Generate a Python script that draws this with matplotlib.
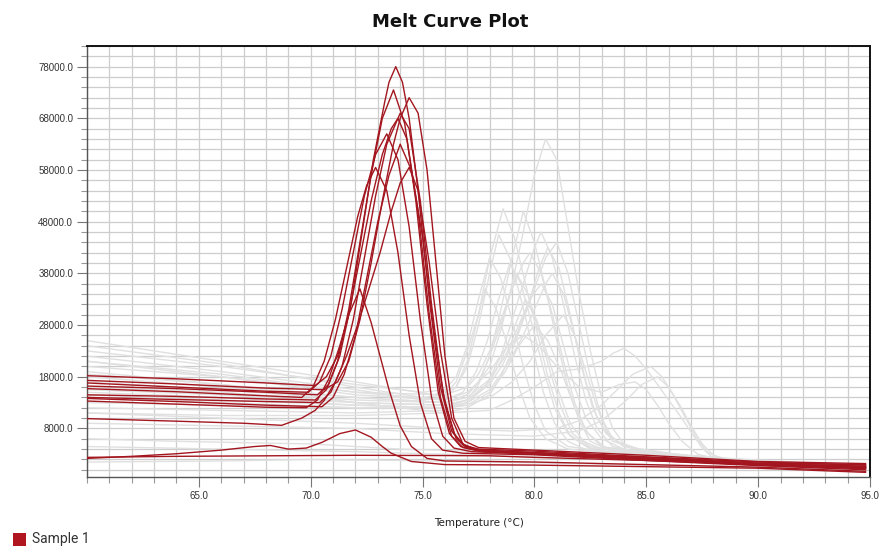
import matplotlib
matplotlib.use("Agg")
import matplotlib.pyplot as plt
from matplotlib.patches import Rectangle
from matplotlib.ticker import FixedLocator, MultipleLocator, FuncFormatter

# -dF/dT melt peaks, (temperature degC, value) per well

# Sample 1 wells
red_01 = [(60.0, 16200), (64, 15700), (68, 15000), (70.3, 14500), (70.8, 16500), (71.3, 22000),
          (71.8, 32000), (72.3, 46000), (72.8, 60000), (73.3, 71000), (73.5, 75000), (73.8, 78000),
          (74.1, 75000), (74.4, 68000), (74.8, 54000), (75.3, 33000), (75.8, 16000), (76.3, 7500),
          (76.8, 4800), (77.5, 4000), (80, 3600), (85, 2500), (90, 1500), (94.8, 900)]
red_02 = [(60.0, 14500), (64, 14200), (68, 13700), (70.2, 13500), (70.7, 15500), (71.2, 21000),
          (71.7, 31000), (72.2, 44000), (72.7, 57000), (73.2, 68000), (73.7, 73500), (74.2, 67000),
          (74.7, 52000), (75.2, 32000), (75.7, 15000), (76.2, 7000), (76.7, 4500), (77.5, 3800),
          (80, 3300), (85, 2300), (90, 1200), (94.8, 500)]
red_03 = [(60.0, 17300), (64, 16600), (68, 15800), (70.6, 15500), (71.2, 17000), (71.7, 21000),
          (72.2, 29000), (72.7, 40000), (73.2, 52000), (73.7, 63000), (74.0, 68000), (74.4, 72000),
          (74.8, 69000), (75.2, 58000), (75.6, 40000), (76.0, 22000), (76.4, 10000), (76.9, 5500),
          (77.5, 4300), (80, 3800), (85, 2800), (90, 1600), (94.8, 1200)]
red_04 = [(60.0, 14000), (64, 13600), (68, 13200), (70.4, 13000), (70.9, 15000), (71.4, 20000),
          (71.9, 29000), (72.4, 41000), (72.9, 53000), (73.4, 63000), (74.0, 69000), (74.4, 66000),
          (74.9, 52000), (75.4, 32000), (75.9, 15000), (76.4, 7000), (76.9, 4600), (77.5, 3800),
          (80, 3300), (85, 2200), (90, 1000), (94.8, 300)]
red_05 = [(60.0, 18200), (64, 17600), (68, 16800), (70.2, 16300), (70.7, 18000), (71.2, 22000),
          (71.7, 30000), (72.2, 41000), (72.7, 52000), (73.2, 61000), (73.6, 66000), (73.9, 68000),
          (74.3, 64000), (74.8, 50000), (75.3, 30000), (75.8, 14000), (76.3, 6500), (76.8, 4300),
          (77.5, 3600), (80, 3200), (85, 2000), (90, 900), (94.8, 200)]
red_06 = [(60.0, 16800), (64, 16000), (68, 15200), (69.9, 15000), (70.4, 17000), (70.9, 22000),
          (71.4, 31000), (71.9, 42000), (72.4, 53000), (72.9, 61000), (73.4, 65000), (73.9, 60000),
          (74.4, 47000), (74.9, 29000), (75.4, 14000), (75.9, 6500), (76.4, 4200), (77.2, 3500),
          (80, 3000), (85, 2000), (90, 1100), (94.8, 600)]
red_07 = [(60.0, 13800), (64, 13200), (68, 12500), (70.5, 12200), (71.0, 14000), (71.5, 18500),
          (72.0, 26000), (72.5, 37000), (73.0, 48000), (73.5, 57000), (74.0, 63000), (74.5, 58000),
          (75.0, 45000), (75.5, 27000), (76.0, 13000), (76.5, 6000), (77.0, 4200), (78, 3600),
          (80, 3200), (85, 2100), (90, 1200), (94.8, 700)]
red_08 = [(60.0, 15700), (64, 15100), (68, 14300), (69.6, 14000), (70.1, 16000), (70.6, 21000),
          (71.1, 29000), (71.6, 39000), (72.1, 49000), (72.5, 55000), (72.9, 58500), (73.4, 54000),
          (73.9, 42000), (74.4, 26000), (74.9, 13000), (75.4, 6000), (75.9, 3800), (76.8, 3200),
          (80, 2900), (85, 1800), (90, 800), (94.8, 0)]
red_09 = [(60.0, 9900), (64, 9400), (67, 9000), (68.7, 8600), (69.6, 10000), (70.2, 11500),
          (70.6, 13400), (71.1, 17000), (71.6, 22000), (72.1, 28000), (72.6, 35000), (73.1, 42000),
          (73.6, 50000), (74.0, 55500), (74.4, 58500), (74.8, 54000), (75.3, 40000), (75.8, 23000),
          (76.3, 10000), (76.8, 5000), (77.5, 3700), (80, 3300), (85, 2400), (90, 1300), (94.8, 1000)]
red_10 = [(60.0, 13300), (64, 12700), (68, 12100), (69.8, 12000), (70.3, 13500), (70.8, 17500),
          (71.3, 24000), (71.7, 30000), (72.2, 35000), (72.7, 28500), (73.1, 22000), (73.5, 15500),
          (74.0, 8500), (74.5, 4500), (75.2, 2200), (76, 1700), (80, 1500), (85, 1000), (90, 500),
          (94.8, -300)]
red_11 = [(60.0, 2200), (62, 2600), (64, 3100), (66, 3800), (67.5, 4500), (68.2, 4700), (69, 4000),
          (69.8, 4200), (70.5, 5300), (71.3, 7000), (72.0, 7700), (72.7, 6300), (73.2, 4500),
          (73.6, 3200), (74.5, 1600), (76, 1000), (80, 900), (85, 600), (90, 300), (94.8, -500)]
red_12 = [(60.0, 2400), (64, 2600), (68, 2700), (72, 2800), (76, 2750), (78, 2700), (80, 2400),
          (85, 1800), (90, 1000), (94.8, 400)]

# other wells
grey_01 = [(60.0, 18000), (66, 16000), (72, 14000), (76, 13000), (77, 14500), (77.5, 17000),
           (78, 20000), (78.5, 27000), (79, 36000), (79.5, 46000), (80, 57000), (80.5, 64000),
           (81, 60000), (81.5, 47000), (82, 34000), (82.5, 23000), (83, 14000), (83.5, 8000),
           (84, 5000), (85, 3500), (87, 2000), (90, 1200), (94.8, 600)]
grey_02 = [(60.0, 22000), (66, 19000), (72, 15500), (75, 13500), (76, 14000), (76.5, 16000),
           (77, 21000), (77.5, 30000), (78, 41000), (78.6, 50500), (79.1, 45000), (79.6, 36000),
           (80.1, 27000), (80.6, 18000), (81.1, 11000), (81.6, 6500), (82.5, 4000), (85, 2500),
           (90, 1300), (94.8, 500)]
grey_03 = [(60.0, 15000), (66, 14000), (72, 12500), (76, 12000), (77, 13500), (77.5, 16500),
           (78, 22000), (78.5, 31000), (79, 41000), (79.5, 50000), (80, 44000), (80.5, 35000),
           (81, 25000), (81.5, 16000), (82, 9500), (82.5, 5500), (83.5, 3500), (87, 2200),
           (90, 1400), (94.8, 700)]
grey_04 = [(60.0, 25000), (66, 21000), (72, 17000), (75.5, 14500), (76.5, 16000), (77, 20000),
           (77.5, 28000), (78, 38000), (78.4, 45500), (78.9, 41000), (79.4, 33000), (79.9, 24000),
           (80.4, 15000), (80.9, 9000), (81.5, 5500), (82.5, 3500), (86, 2300), (90, 1300),
           (94.8, 600)]
grey_05 = [(60.0, 12000), (66, 11500), (72, 11000), (76, 11500), (77, 13000), (77.8, 16000),
           (78.5, 22000), (79, 29000), (79.5, 36000), (80, 43000), (80.3, 46000), (80.8, 41000),
           (81.3, 32000), (81.8, 22000), (82.3, 13500), (82.8, 8000), (83.5, 4500), (85, 3000),
           (90, 1500), (94.8, 800)]
grey_06 = [(60.0, 11000), (66, 10500), (72, 10500), (76, 11000), (77, 12000), (78, 14500),
           (78.5, 18000), (79, 23000), (79.5, 29000), (80, 35000), (80.5, 41000), (81, 44000),
           (81.5, 38000), (82, 28000), (82.5, 18000), (83, 10000), (83.5, 6000), (84.5, 3800),
           (87, 2400), (90, 1500), (94.8, 700)]
grey_07 = [(60.0, 20000), (66, 18000), (72, 15000), (76, 14500), (77, 16000), (77.5, 18500),
           (78, 23000), (78.5, 29000), (79, 35000), (79.5, 40000), (79.8, 42000), (80.3, 38000),
           (80.8, 30000), (81.3, 21000), (81.8, 13000), (82.3, 7500), (83, 4500), (86, 2800),
           (90, 1500), (94.8, 600)]
grey_08 = [(60.0, 23000), (66, 20000), (72, 16500), (75, 15000), (76, 15500), (76.5, 18000),
           (77, 24000), (77.5, 33000), (78, 41000), (78.5, 37000), (79, 29000), (79.5, 20000),
           (80, 12500), (80.5, 7500), (81.5, 4500), (84, 3000), (90, 1400), (94.8, 500)]
grey_09 = [(60.0, 17000), (66, 15500), (72, 13500), (76, 13000), (77, 14500), (77.5, 17000),
           (78, 22000), (78.5, 28000), (79.2, 38000), (79.7, 34000), (80.2, 27000), (80.7, 19000),
           (81.2, 12000), (81.7, 7000), (82.5, 4500), (85, 3000), (90, 1500), (94.8, 700)]
grey_10 = [(60.0, 13000), (66, 12500), (72, 12000), (76, 12000), (77, 13000), (78, 15500),
           (78.5, 18500), (79, 22000), (79.5, 26000), (80, 31000), (80.5, 36000), (80.8, 38000),
           (81.3, 34000), (81.8, 26000), (82.3, 17000), (82.8, 10000), (83.5, 5500), (85, 3500),
           (90, 1700), (94.8, 800)]
grey_11 = [(60.0, 24000), (66, 20500), (72, 16000), (75, 14000), (76, 14500), (76.5, 17000),
           (77, 23000), (77.5, 30000), (77.8, 35000), (78.3, 31000), (78.8, 24000), (79.3, 16000),
           (79.8, 10000), (80.5, 6000), (81.5, 4000), (85, 2700), (90, 1400), (94.8, 500)]
grey_12 = [(60.0, 16000), (66, 15000), (72, 13000), (76, 12500), (77, 13500), (78, 17000),
           (78.5, 21000), (79, 26500), (79.6, 33000), (80.1, 29000), (80.6, 22000), (81.1, 15000),
           (81.6, 9000), (82.2, 5500), (83, 4000), (87, 2500), (90, 1500), (94.8, 700)]
grey_13 = [(60.0, 14000), (66, 13000), (72, 12000), (76, 12000), (77, 12500), (78, 14000),
           (79, 17000), (79.8, 21000), (80.5, 26000), (81.3, 30000), (81.8, 26000), (82.3, 19000),
           (82.8, 12000), (83.3, 7000), (84, 4500), (86, 3000), (90, 1600), (94.8, 800)]
grey_14 = [(60.0, 19000), (66, 16500), (72, 13000), (76, 11000), (78, 11500), (79, 13500),
           (80, 16000), (81, 19000), (82, 19500), (83, 21000), (83.5, 22500), (84, 23500),
           (84.5, 22000), (85, 19500), (85.5, 16500), (86, 13500), (86.5, 10500), (87, 7300),
           (87.5, 4200), (88, 2200), (89, 1600), (91, 1200), (94.8, 600)]
grey_15 = [(60.0, 11000), (66, 10000), (72, 9000), (76, 8000), (79, 7500), (81, 8000), (82, 9500),
           (83, 12500), (83.7, 15500), (84.4, 18500), (85.2, 20000), (85.7, 18000), (86.2, 14500),
           (86.7, 10500), (87.2, 6500), (87.7, 3500), (88.5, 1800), (91, 1200), (94.8, 500)]
grey_16 = [(60.0, 9000), (66, 8500), (72, 8000), (76, 7000), (80, 6500), (82, 7500), (83, 9500),
           (84, 13000), (84.8, 16500), (85.5, 18000), (86, 16000), (86.5, 12500), (87, 8500),
           (87.5, 5000), (88, 2800), (89, 1600), (92, 1000), (94.8, 400)]
grey_17 = [(60.0, 21000), (66, 18000), (72, 14500), (76, 13500), (77, 15000), (78, 19000),
           (78.8, 24000), (79.5, 26000), (80.2, 24000), (81, 20000), (82, 16000), (83, 15000),
           (83.8, 16500), (84.5, 17000), (85, 15500), (85.5, 12500), (86, 9000), (86.6, 5500),
           (87.3, 3000), (88.5, 1800), (92, 1100), (94.8, 500)]
grey_18 = [(60.0, 14500), (66, 13500), (72, 12500), (76, 12000), (77, 12500), (78, 15000),
           (78.7, 19000), (79.3, 24000), (80, 28000), (80.6, 25000), (81.2, 19000), (81.8, 12000),
           (82.4, 7000), (83.2, 4200), (86, 2800), (90, 1400), (94.8, 600)]
grey_19 = [(60.0, 4500), (66, 4000), (72, 3500), (76, 3000), (80, 2500), (85, 1800), (90, 1000),
           (94.8, 400)]
grey_20 = [(60.0, 1500), (66, 1700), (70, 2000), (74, 1800), (78, 1500), (84, 1000), (90, 500),
           (94.8, 0)]
grey_21 = [(60.0, 6000), (64, 5500), (70, 5000), (74, 4000), (78, 3500), (82, 3000), (88, 1500),
           (94.8, 500)]
grey_22 = [(60.0, 18500), (66, 16500), (72, 14000), (76, 13000), (77, 14000), (78, 17500),
           (78.7, 22000), (79.3, 28000), (79.8, 33000), (80.3, 36000), (80.8, 32000), (81.3, 24000),
           (81.8, 16000), (82.3, 10000), (83, 6000), (84, 4000), (88, 2300), (94.8, 600)]
grey_23 = [(60.0, 21000), (66, 18500), (72, 15000), (76, 13500), (76.8, 15000), (77.4, 19000),
           (77.9, 25000), (78.4, 33000), (78.9, 40000), (79.4, 36000), (79.9, 28000), (80.4, 19500),
           (80.9, 12000), (81.5, 7000), (82.5, 4200), (86, 2700), (94.8, 500)]
grey_24 = [(60.0, 15500), (66, 14500), (72, 13000), (76, 12500), (77, 13500), (78, 16500),
           (78.6, 20500), (79.2, 26000), (79.8, 33000), (80.2, 39000), (80.6, 43000), (81.1, 39000),
           (81.6, 30000), (82.1, 20000), (82.6, 12000), (83.2, 7000), (84, 4500), (87, 2600),
           (94.8, 700)]

sample_curves = [red_01, red_02, red_03, red_04, red_05, red_06, red_07, red_08, red_09,
                 red_10, red_11, red_12]
other_curves = [grey_01, grey_02, grey_03, grey_04, grey_05, grey_06, grey_07, grey_08,
                grey_09, grey_10, grey_11, grey_12, grey_13, grey_14, grey_15, grey_16,
                grey_17, grey_18, grey_19, grey_20, grey_21, grey_22, grey_23, grey_24]

y_major = [8000, 18000, 28000, 38000, 48000, 58000, 68000, 78000]
x_major = [65, 70, 75, 80, 85, 90, 95]

RED = '#a3161f'
GREY = '#e0e0e0'
GRID = '#cdcdcd'

fig = plt.figure(figsize=(8.84, 5.5), dpi=100)
ax = fig.add_axes([87 / 884, 73 / 550, 783 / 884, 431 / 550])

for curve in other_curves:
    t, v = zip(*curve)
    ax.plot(t, v, color=GREY, lw=1.0, zorder=2)
for curve in sample_curves:
    t, v = zip(*curve)
    ax.plot(t, v, color=RED, lw=1.0, zorder=3)

ax.set_xlim(60, 95)
ax.set_ylim(-1400, 82000)

ax.xaxis.set_major_locator(FixedLocator(x_major))
ax.xaxis.set_minor_locator(MultipleLocator(1))
ax.yaxis.set_major_locator(FixedLocator(y_major))
ax.yaxis.set_minor_locator(MultipleLocator(2000))
fmt = FuncFormatter(lambda v, pos: '%.1f' % v)
ax.xaxis.set_major_formatter(fmt)
ax.yaxis.set_major_formatter(fmt)

ax.set_axisbelow(True)
ax.grid(which='both', color=GRID, lw=0.9)

ax.tick_params(which='major', length=7, width=0.8, color='#777777', pad=3,
               labelsize=7, labelcolor='#333333')
ax.tick_params(which='minor', length=4, width=0.8, color='#999999')
for lab in ax.get_xticklabels() + ax.get_yticklabels():
    lab.set_family('Liberation Sans')

for side in ('left', 'bottom'):
    ax.spines[side].set_color('#555555')
    ax.spines[side].set_linewidth(1.0)
for side in ('top', 'right'):
    ax.spines[side].set_color('#111111')
    ax.spines[side].set_linewidth(1.4)

ax.set_xlabel('Temperature (°C)', fontsize=7.5, color='#222222', labelpad=12)

fig.text(450 / 884, 1 - 22 / 550, 'Melt Curve Plot', ha='center', va='center',
         fontsize=13, fontweight='bold', color='#111111')

# legend swatch
fig.patches.append(Rectangle((13 / 884, 4 / 550), 13 / 884, 13 / 550, transform=fig.transFigure,
                             facecolor='#b0161f', edgecolor='none'))
fig.text(32 / 884, 1 - 539 / 550, 'Sample 1', ha='left', va='center', fontsize=10,
         family='Roboto', color='#333333')

fig.savefig('out.png', dpi=100)
